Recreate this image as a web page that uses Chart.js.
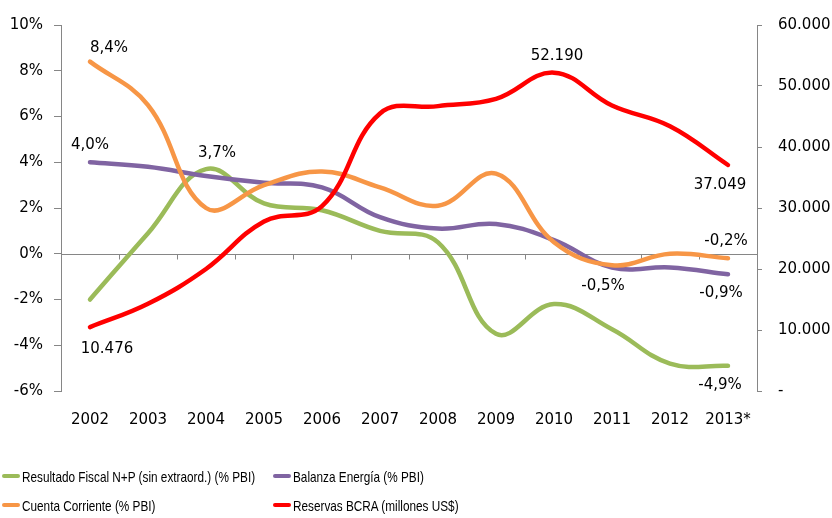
<!DOCTYPE html>
<html>
<head>
<meta charset="utf-8">
<script src="https://cdn.jsdelivr.net/npm/chart.js@4"></script>
<style>
  body { margin: 0; background: #fff; }
  #wrap { position: relative; width: 832px; height: 518px; }
  #legend { position: absolute; left: 0; top: 0; width: 832px; height: 518px; pointer-events: none;
            font-family: "Liberation Sans", sans-serif; font-size: 15px; color: #000; }
  .item { position: absolute; display: flex; align-items: center; white-space: nowrap; }
  .swatch { width: 18px; height: 4px; border-radius: 2px; margin-right: 2px; }
  .txt { display: inline-block; transform: scaleX(0.785); transform-origin: left center; }
</style>
</head>
<body>
<div id="wrap">
  <canvas id="chart" width="832" height="518"></canvas>
  <div id="legend"></div>
</div>
<script>
// categories
const years = ['2002', '2003', '2004', '2005', '2006', '2007', '2008', '2009', '2010', '2011', '2012', '2013*'];

// % PBI series (left axis)
const fiscal = [-2.0, 0.9, 3.7, 2.2, 1.9, 1.0, 0.5, -3.5, -2.2, -3.3, -4.8, -4.9];
const energia = [4.0, 3.8, 3.4, 3.1, 2.9, 1.6, 1.1, 1.3, 0.6, -0.6, -0.6, -0.9];
const cuenta = [8.4, 6.5, 2.0, 3.0, 3.6, 2.9, 2.1, 3.5, 0.5, -0.5, 0.0, -0.2];

// reservas, millones US$ (right axis)
const reservas = [10476, 14300, 20000, 27800, 30300, 45500, 46700, 47900, 52190, 46800, 43400, 37049];

// axis ticks
const leftTicks = [-6, -4, -2, 0, 2, 4, 6, 8, 10];
const rightTicks = [0, 10000, 20000, 30000, 40000, 50000, 60000];

const seriesNames = [
  'Resultado Fiscal N+P (sin extraord.) (% PBI)',
  'Balanza Energía (% PBI)',
  'Cuenta Corriente (% PBI)',
  'Reservas BCRA (millones US$)'
];

// which points carry a value label: [dataset, index, dx, dy]
const pointLabels = [
  [0, 2, 11, -16], [0, 11, -8, 19],
  [1, 0, 0, -17], [1, 11, -7, 19],
  [2, 0, 19, -13], [2, 9, -9, 21], [2, 11, -2, -17],
  [3, 0, 17, 22], [3, 8, 3, -17], [3, 11, -8, 20]
];

const axisGrey = '#868686';
const tickFont = { family: 'DejaVu Sans', size: 15 };

function fmtThousands(v) {
  return String(Math.round(v)).replace(/\B(?=(\d{3})+(?!\d))/g, '.');
}
function fmtPct(v) {
  return v.toFixed(1).replace('.', ',') + '%';
}

const zeroLine = {
  id: 'zeroLine',
  beforeDatasetsDraw(chart) {
    const { ctx, scales: { x, y } } = chart;
    const y0 = Math.round(y.getPixelForValue(0)) + 0.5;
    const step = (x.right - x.left) / years.length;
    ctx.save();
    ctx.strokeStyle = axisGrey;
    ctx.lineWidth = 1;
    ctx.beginPath();
    ctx.moveTo(x.left, y0);
    ctx.lineTo(x.right, y0);
    for (let i = 0; i <= years.length; i++) {
      const px = Math.round(x.left + i * step) + 0.5;
      ctx.moveTo(px, y0);
      ctx.lineTo(px, y0 + 5);
    }
    ctx.stroke();
    ctx.restore();
  }
};

const valueLabels = {
  id: 'valueLabels',
  afterDatasetsDraw(chart) {
    const ctx = chart.ctx;
    ctx.save();
    ctx.font = '15px "DejaVu Sans"';
    ctx.fillStyle = '#000';
    ctx.textAlign = 'center';
    ctx.textBaseline = 'middle';
    pointLabels.forEach(([d, i, dx, dy]) => {
      const pt = chart.getDatasetMeta(d).data[i];
      const v = chart.data.datasets[d].data[i];
      const txt = d === 3 ? fmtThousands(v) : fmtPct(v);
      ctx.fillText(txt, pt.x + dx, pt.y + dy);
    });
    ctx.restore();
  }
};

const colors = ['#9BBB59', '#8064A2', '#F79646', '#FF0000'];
const seriesData = [fiscal, energia, cuenta, reservas];

const datasets = seriesData.map((data, k) => ({
  label: seriesNames[k],
  data: data,
  yAxisID: k === 3 ? 'y1' : 'y',
  borderColor: colors[k],
  backgroundColor: colors[k],
  borderWidth: 4.5,
  borderCapStyle: 'round',
  borderJoinStyle: 'round',
  pointRadius: 0,
  tension: 0.4,
  fill: false,
  order: 3 - k
}));

new Chart(document.getElementById('chart'), {
  type: 'line',
  data: { labels: years, datasets: datasets },
  options: {
    responsive: false,
    animation: false,
    devicePixelRatio: 1,
    layout: { padding: { top: 21, left: 0, right: 0, bottom: 0 } },
    plugins: { legend: { display: false }, tooltip: { enabled: false } },
    scales: {
      x: {
        offset: true,
        grid: { display: false, drawTicks: false },
        border: { display: false },
        ticks: { color: '#000', font: tickFont, padding: 20, maxRotation: 0, autoSkip: false },
        afterFit(s) { s.height = 127; }
      },
      y: {
        position: 'left',
        min: -6, max: 10,
        afterBuildTicks(s) { s.ticks = leftTicks.map(v => ({ value: v })); },
        grid: { drawOnChartArea: false, drawTicks: true, tickLength: 7, color: axisGrey },
        border: { display: true, color: axisGrey },
        ticks: { color: '#000', font: tickFont, padding: 11, callback: v => v + '%' },
        afterFit(s) { s.width = 61; }
      },
      y1: {
        position: 'right',
        min: 0, max: 60000,
        afterBuildTicks(s) { s.ticks = rightTicks.map(v => ({ value: v })); },
        grid: { drawOnChartArea: false, drawTicks: true, tickLength: 5, color: axisGrey },
        border: { display: true, color: axisGrey },
        ticks: { color: '#000', font: tickFont, padding: 16, callback: v => v === 0 ? '-' : fmtThousands(v) },
        afterFit(s) { s.width = 75; }
      }
    }
  },
  plugins: [zeroLine, valueLabels]
});

// legend, two columns like the original
const legendPos = [[2, 476], [273, 476], [2, 505], [273, 505]];
const legendEl = document.getElementById('legend');
seriesNames.forEach((name, k) => {
  const item = document.createElement('div');
  item.className = 'item';
  item.style.left = legendPos[k][0] + 'px';
  item.style.top = (legendPos[k][1] - 9) + 'px';
  item.style.height = '18px';
  const sw = document.createElement('span');
  sw.className = 'swatch';
  sw.style.background = colors[k];
  const tx = document.createElement('span');
  tx.className = 'txt';
  tx.textContent = name;
  item.appendChild(sw);
  item.appendChild(tx);
  legendEl.appendChild(item);
});
</script>
</body>
</html>
